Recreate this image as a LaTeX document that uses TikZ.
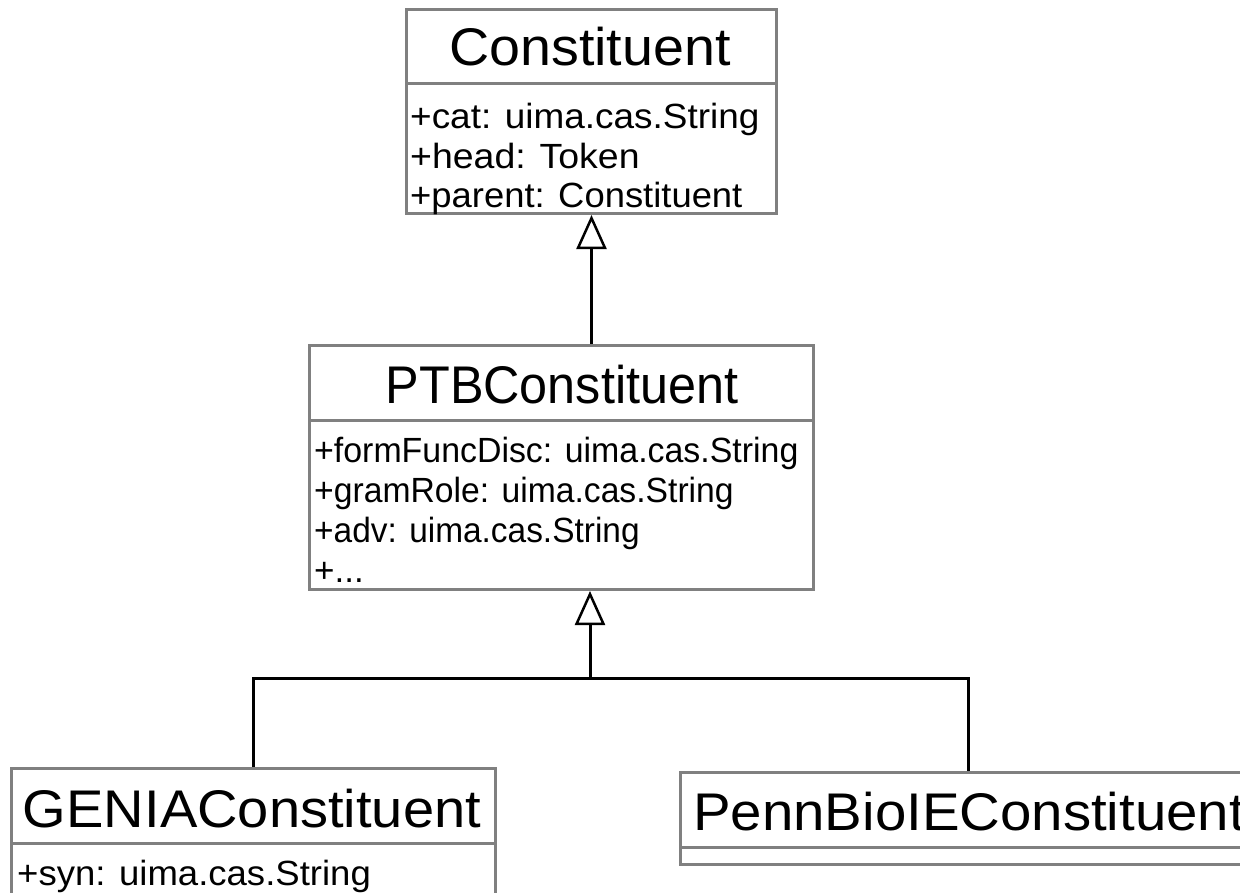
\documentclass[tikz,border=0pt]{standalone}
\usepackage{fontspec}
\usepackage{graphicx}
\setmainfont{Liberation Sans}
\usetikzlibrary{arrows.meta}
\newcommand\hstretch[2]{\scalebox{#1}[1]{#2}}
\begin{document}
\begin{tikzpicture}[x=1pt,y=-1pt,
  cls/.style={draw=boxgray, line width=3pt, fill=white, rectangle, inner sep=0pt, anchor=north west},
  divider/.style={draw=boxgray, line width=3pt},
  title/.style={inner sep=0pt, anchor=base, font=\fontsize{53}{60}\selectfont},
  attr/.style={inner sep=0pt, anchor=base west, font=\fontsize{35}{40}\selectfont},
  conn/.style={draw=black, line width=3pt},
  gen/.style={conn, -{Triangle[open, fill=white, length=34pt, width=30pt, line width=2.5pt]}}
]
\definecolor{boxgray}{RGB}{128,128,128}
\useasboundingbox (0,0) rectangle (1240,892);
\clip (0,0) rectangle (1240,892);
\fill[white] (0,0) rectangle (1240,892);

% Constituent
\node[cls, minimum width=370pt, minimum height=204pt] (const) at (405,8) {};
\draw[divider] (const.west |- 0,83) -- (const.east |- 0,83);
\node[title] (constT) at (590,65) {\hstretch{1.05}{Constituent}};
\node[attr] (constA1) at (410,128) {\hstretch{1.055}{+cat: uima.cas.String}};
\node[attr] (constA2) at (410,168) {\hstretch{1.07}{+head: Token}};
\node[attr] (constA3) at (410,207) {\hstretch{1.04}{+parent: Constituent}};

% PTBConstituent
\node[cls, minimum width=504pt, minimum height=244pt] (ptb) at (308,344) {};
\draw[divider] (ptb.west |- 0,420) -- (ptb.east |- 0,420);
\node[title] (ptbT) at (562,403) {\hstretch{0.95}{PTBConstituent}};
\node[attr] (ptbA1) at (314,462) {\hstretch{0.968}{+formFuncDisc: uima.cas.String}};
\node[attr] (ptbA2) at (314,502) {\hstretch{0.962}{+gramRole: uima.cas.String}};
\node[attr] (ptbA3) at (314,542) {\hstretch{0.955}{+adv: uima.cas.String}};
\node[attr] (ptbA4) at (314,582) {+...};

% GENIAConstituent
\node[cls, minimum width=484pt, minimum height=140pt] (genia) at (10,767) {};
\draw[divider] (genia.west |- 0,843) -- (genia.east |- 0,843);
\node[title] (geniaT) at (252,827) {\hstretch{1.058}{GENIAConstituent}};
\node[attr] (geniaA1) at (17,885) {\hstretch{1.044}{+syn: uima.cas.String}};

% PennBioIEConstituent
\node[cls, minimum width=576pt, minimum height=92pt] (penn) at (679,771) {};
\draw[divider] (penn.west |- 0,847) -- (penn.east |- 0,847);
\node[title, anchor=base west] (pennT) at (693,830) {\hstretch{1.064}{PennBioIEConstituent}};

% connectors
\draw[gen] (const.south |- ptb.north) -- (const.south);
\coordinate (bus) at (590,678);
\draw[conn] (genia.north) |- (bus) -| (penn.north);
\draw[gen] (bus) -- (bus |- ptb.south);
\end{tikzpicture}
\end{document}
